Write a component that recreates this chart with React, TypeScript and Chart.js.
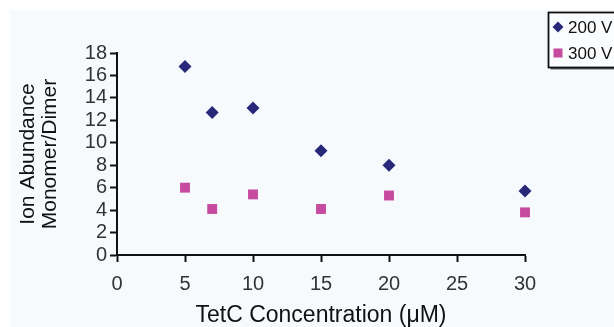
import React, { useEffect, useRef } from "react";
import { Chart, registerables } from "chart.js";

Chart.register(...registerables);

const seriesNames = ["200 V", "300 V"];
const concentrations = [5, 7, 10, 15, 20, 30];
const values200 = [16.8, 12.7, 13.1, 9.3, 8.0, 5.7];
const values300 = [6.0, 4.1, 5.4, 4.1, 5.3, 3.8];
const xTicks = [0, 5, 10, 15, 20, 25, 30];
const yTitle = ["Ion Abundance", "Monomer/Dimer"];
const xTitle = "TetC Concentration (\u03BCM)";

const NAVY = "#27287a";
const MAGENTA = "#c64b9f";
const FONT = "'Liberation Sans', Arial, Helvetica, sans-serif";

const bgPlugin = {
  id: "bgPlugin",
  beforeDraw(chart: any) {
    const { ctx, width, height } = chart;
    ctx.save();
    ctx.fillStyle = "#ffffff";
    ctx.fillRect(0, 0, width, height);
    ctx.fillStyle = "#f7fafd";
    ctx.fillRect(10, 10, width - 10, height - 10);
    ctx.restore();
  },
};

const legendPlugin = {
  id: "boxLegend",
  afterDraw(chart: any) {
    const { ctx } = chart;
    const x = 548.5, y = 12.5, w = 80, h = 55;
    ctx.save();
    ctx.fillStyle = "#666";
    ctx.fillRect(x + 2, y + 2, w, h);
    ctx.fillStyle = "#fbfcfe";
    ctx.fillRect(x, y, w, h);
    ctx.strokeStyle = "#111";
    ctx.lineWidth = 1.8;
    ctx.strokeRect(x, y, w, h);
    ctx.font = `17px ${FONT}`;
    ctx.textBaseline = "middle";
    chart.data.datasets.forEach((ds: any, i: number) => {
      const cy = 27 + i * 26;
      const cx = 558;
      ctx.fillStyle = ds.backgroundColor;
      ctx.beginPath();
      if (ds.pointStyle === "rectRot") {
        ctx.moveTo(cx, cy - 5.5);
        ctx.lineTo(cx + 5.5, cy);
        ctx.lineTo(cx, cy + 5.5);
        ctx.lineTo(cx - 5.5, cy);
        ctx.closePath();
        ctx.fill();
      } else {
        ctx.fillRect(cx - 4.5, cy - 4.5, 9, 9);
      }
      ctx.fillStyle = "#111";
      ctx.fillText(ds.label, 568, cy + 1);
    });
    ctx.restore();
  },
};

export default function App() {
  const ref = useRef<HTMLCanvasElement>(null);
  useEffect(() => {
    if (!ref.current) return;
    const chart = new Chart(ref.current, {
      type: "scatter",
      data: {
        datasets: [
          {
            label: seriesNames[0],
            data: concentrations.map((c, i) => ({ x: c, y: values200[i] })),
            pointStyle: "rectRot",
            pointRadius: 6.5,
            backgroundColor: NAVY,
            borderColor: NAVY,
            borderWidth: 0,
            clip: false,
          },
          {
            label: seriesNames[1],
            data: concentrations.map((c, i) => ({ x: c, y: values300[i] })),
            pointStyle: "rect",
            pointRadius: 7,
            backgroundColor: MAGENTA,
            borderColor: MAGENTA,
            borderWidth: 0,
            clip: false,
          },
        ],
      },
      options: {
        animation: false,
        responsive: false,
        maintainAspectRatio: false,
        layout: { padding: { left: 0, right: 89, top: 53, bottom: 0 } },
        plugins: {
          legend: { display: false },
          tooltip: { enabled: false },
        },
        scales: {
          x: {
            type: "linear",
            min: 0,
            max: 30,
            afterBuildTicks: (scale: any) => {
              scale.ticks = xTicks.map((v) => ({ value: v }));
            },
            afterFit: (scale: any) => {
              scale.height = 72;
            },
            grid: {
              drawOnChartArea: false,
              drawTicks: true,
              tickLength: 7,
              tickColor: "#111",
              tickWidth: 2,
            },
            border: { display: true, color: "#111", width: 2 },
            ticks: {
              color: "#333",
              font: { family: FONT, size: 20 },
              padding: 10,
              maxRotation: 0,
              autoSkip: false,
            },
            title: {
              display: true,
              text: xTitle,
              color: "#111",
              font: { family: FONT, size: 23, lineHeight: 1 },
              padding: { top: 0, bottom: 0 },
            },
          },
          y: {
            type: "linear",
            min: 0,
            max: 18,
            ticks: {
              stepSize: 2,
              color: "#333",
              font: { family: FONT, size: 20 },
              padding: 3,
              autoSkip: false,
            },
            afterFit: (scale: any) => {
              scale.width = 117;
            },
            grid: {
              drawOnChartArea: false,
              drawTicks: true,
              tickLength: 7,
              tickColor: "#111",
              tickWidth: 2,
            },
            border: { display: true, color: "#111", width: 2 },
            title: {
              display: true,
              text: yTitle,
              color: "#111",
              font: { family: FONT, size: 21, lineHeight: 1.05 },
              padding: { top: 17, bottom: 0 },
            },
          },
        },
      },
      plugins: [bgPlugin, legendPlugin],
    });
    return () => chart.destroy();
  }, []);
  return (
    <div style={{ position: "absolute", left: 0, top: 0, width: 614, height: 327 }}>
      <canvas ref={ref} width={614} height={327} style={{ display: "block" }} />
    </div>
  );
}
